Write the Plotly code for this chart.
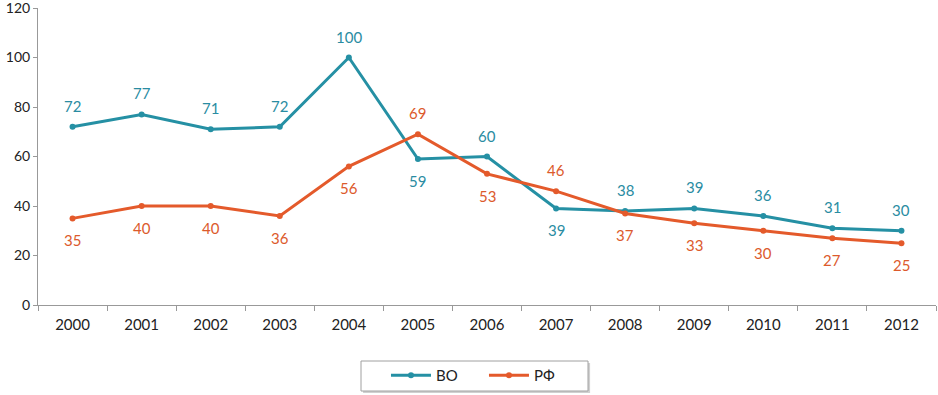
import plotly.graph_objects as go

years = ["2000", "2001", "2002", "2003", "2004", "2005", "2006",
         "2007", "2008", "2009", "2010", "2011", "2012"]
vo = [72, 77, 71, 72, 100, 59, 60, 39, 38, 39, 36, 31, 30]
rf = [35, 40, 40, 36, 56, 69, 53, 46, 37, 33, 30, 27, 25]
vo_label_up = [True, True, True, True, True, False, True, False, True, True, True, True, True]
rf_label_up = [False, False, False, False, False, True, False, True, False, False, False, False, False]

c_vo = "#2590A4"
c_rf = "#E45A2B"
t_vo = "#2A8CA2"
t_rf = "#DC5A2C"
FONT = "Lato, Open Sans, sans-serif"

fig = go.Figure()
fig.add_trace(go.Scatter(x=years, y=vo, name="ВО", mode="lines+markers",
                         line=dict(color=c_vo, width=3), marker=dict(size=6, color=c_vo)))
fig.add_trace(go.Scatter(x=years, y=rf, name="РФ", mode="lines+markers",
                         line=dict(color=c_rf, width=3), marker=dict(size=6, color=c_rf)))

for i, (v, up) in enumerate(zip(vo, vo_label_up)):
    fig.add_annotation(x=i, y=v, xref="x", yref="y", text=str(v), showarrow=False,
                       yshift=21 if up else -22, font=dict(color=t_vo, size=15, family=FONT))
for i, (v, up) in enumerate(zip(rf, rf_label_up)):
    fig.add_annotation(x=i, y=v, xref="x", yref="y", text=str(v), showarrow=False,
                       yshift=21 if up else -22, font=dict(color=t_rf, size=15, family=FONT))

# legend frame (with soft shadow)
fig.add_shape(type="rect", xref="paper", yref="paper", x0=0.3620, x1=0.6148,
              y0=-0.2963, y1=-0.1953, line=dict(width=0), fillcolor="#d0d0d0", layer="below")
fig.add_shape(type="rect", xref="paper", yref="paper", x0=0.3597, x1=0.6125,
              y0=-0.2896, y1=-0.1886, line=dict(width=1, color="#a0a0a0"), fillcolor="white",
              layer="below")

fig.update_layout(
    width=938, height=395,
    margin=dict(l=38, r=2, t=8, b=90, autoexpand=False),
    paper_bgcolor="white", plot_bgcolor="rgba(0,0,0,0)",
    font=dict(family=FONT, size=15, color="#222"),
    showlegend=True,
    legend=dict(orientation="h", x=0.3875, xanchor="left", y=-0.1818, yanchor="top",
                bgcolor="rgba(0,0,0,0)", borderwidth=0, font=dict(size=15, color="#222"),
                itemwidth=40, entrywidth=43),
)
fig.update_xaxes(type="category", range=[-0.5, 12.5], showline=True, linecolor="#999",
                 linewidth=1, ticks="outside", tickson="boundaries", ticklen=5,
                 tickcolor="#999", showgrid=False, ticklabelstandoff=6,
                 tickfont=dict(size=15, color="#222"))
fig.update_yaxes(range=[0, 120], dtick=20, showline=True, linecolor="#999", linewidth=1,
                 ticks="outside", ticklen=4, tickcolor="#999", showgrid=False, zeroline=False,
                 ticklabeloverflow="allow", tickfont=dict(size=14, color="#222"))

fig.write_html("out.html", config={"displayModeBar": False},
               post_script="document.body.style.margin='0';")
